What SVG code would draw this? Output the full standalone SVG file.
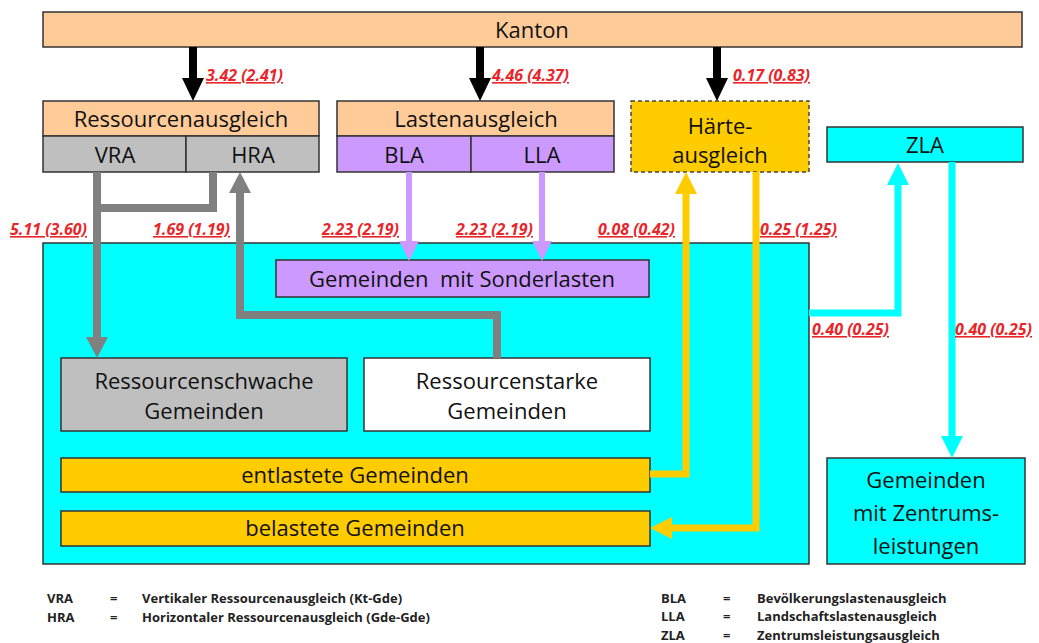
<svg xmlns="http://www.w3.org/2000/svg" width="1039" height="643" viewBox="0 0 1039 643">
<style>
  .box{stroke:#333;stroke-width:1.5}
  .t{font-family:"Open Sans","Liberation Sans",sans-serif;font-size:22px;fill:#111;text-anchor:middle}
  .lbl{font-family:"Open Sans","Liberation Sans",sans-serif;font-size:16px;font-weight:bold;font-style:italic;fill:#E8262A;text-decoration:underline}
  .lg{font-family:"Open Sans","Liberation Sans",sans-serif;font-size:13px;font-weight:bold;fill:#222}
  .c{fill:none;stroke-linejoin:miter}
</style>
<defs>
  <marker id="mBlack" markerUnits="userSpaceOnUse" markerWidth="24" markerHeight="24" refX="0" refY="11" orient="auto" overflow="visible"><path d="M0,0 L23,11 L0,22 z" fill="#000"/></marker>
  <marker id="mGray" markerUnits="userSpaceOnUse" markerWidth="24" markerHeight="24" refX="0" refY="11" orient="auto" overflow="visible"><path d="M0,0 L21,11 L0,22 z" fill="#808080"/></marker>
  <marker id="mPurple" markerUnits="userSpaceOnUse" markerWidth="24" markerHeight="24" refX="0" refY="10" orient="auto" overflow="visible"><path d="M0,0 L20,10 L0,20 z" fill="#CC99FF"/></marker>
  <marker id="mYellow" markerUnits="userSpaceOnUse" markerWidth="24" markerHeight="24" refX="0" refY="11" orient="auto" overflow="visible"><path d="M0,0 L22,11 L0,22 z" fill="#FFCC00"/></marker>
  <marker id="mCyan" markerUnits="userSpaceOnUse" markerWidth="24" markerHeight="24" refX="0" refY="11" orient="auto" overflow="visible"><path d="M0,0 L22,11 L0,22 z" fill="#00FFFF"/></marker>
</defs>
<rect width="1039" height="643" fill="#fff"/>

<g id="kanton">
  <rect class="box" x="43" y="12" width="979" height="35" fill="#FFCC99"/>
  <text class="t" x="532" y="38">Kanton</text>
</g>

<g id="gemeinden-container">
  <rect class="box" x="43" y="243" width="766" height="321" fill="#00FFFF"/>
</g>

<g id="ressourcenausgleich">
  <rect class="box" x="43" y="101" width="276" height="35" fill="#FFCC99"/>
  <rect class="box" x="43" y="136" width="143" height="36" fill="#BFBFBF"/>
  <rect class="box" x="186" y="136" width="133" height="36" fill="#BFBFBF"/>
  <text class="t" x="181" y="127">Ressourcenausgleich</text>
  <text class="t" x="115" y="163">VRA</text>
  <text class="t" x="253" y="163">HRA</text>
</g>

<g id="lastenausgleich">
  <rect class="box" x="337" y="101" width="277" height="35" fill="#FFCC99"/>
  <rect class="box" x="337" y="136" width="134" height="36" fill="#CC99FF"/>
  <rect class="box" x="471" y="136" width="143" height="36" fill="#CC99FF"/>
  <text class="t" x="476" y="127">Lastenausgleich</text>
  <text class="t" x="404" y="163">BLA</text>
  <text class="t" x="542" y="163">LLA</text>
</g>

<g id="haerteausgleich">
  <rect x="631" y="101" width="178" height="71" fill="#FFCC00" stroke="#444" stroke-width="1.5" stroke-dasharray="4,3"/>
  <text class="t" x="720" y="134">Härte-</text>
  <text class="t" x="720" y="163">ausgleich</text>
</g>

<g id="zla">
  <rect class="box" x="827" y="127" width="196" height="35" fill="#00FFFF"/>
  <text class="t" x="925" y="153">ZLA</text>
</g>

<g id="sonderlasten">
  <rect class="box" x="276" y="260" width="373" height="37" fill="#CC99FF"/>
  <text class="t" x="462" y="287" xml:space="preserve">Gemeinden  mit Sonderlasten</text>
</g>

<g id="ressourcenschwache">
  <rect class="box" x="61" y="358" width="286" height="73" fill="#BFBFBF"/>
  <text class="t" x="204" y="389">Ressourcenschwache</text>
  <text class="t" x="204" y="419">Gemeinden</text>
</g>

<g id="ressourcenstarke">
  <rect class="box" x="364" y="358" width="286" height="73" fill="#FFFFFF"/>
  <text class="t" x="507" y="389">Ressourcenstarke</text>
  <text class="t" x="507" y="419">Gemeinden</text>
</g>

<g id="entlastete">
  <rect class="box" x="61" y="458" width="589" height="34" fill="#FFCC00"/>
  <text class="t" x="355" y="483">entlastete Gemeinden</text>
</g>

<g id="belastete">
  <rect class="box" x="61" y="511" width="589" height="35" fill="#FFCC00"/>
  <text class="t" x="355" y="536">belastete Gemeinden</text>
</g>

<g id="zentrumsleistungen">
  <rect class="box" x="827" y="458" width="198" height="106" fill="#00FFFF"/>
  <text class="t" x="926" y="488">Gemeinden</text>
  <text class="t" x="926" y="521">mit Zentrums-</text>
  <text class="t" x="926" y="554">leistungen</text>
</g>

<g id="connectors">
  <path class="c" d="M193,47 V78" stroke="#000" stroke-width="8" marker-end="url(#mBlack)"/>
  <path class="c" d="M480,47 V78" stroke="#000" stroke-width="8" marker-end="url(#mBlack)"/>
  <path class="c" d="M717,47 V78" stroke="#000" stroke-width="8" marker-end="url(#mBlack)"/>

  <path class="c" d="M97,172 V337" stroke="#808080" stroke-width="8" marker-end="url(#mGray)"/>
  <path class="c" d="M213,172 V208 H97" stroke="#808080" stroke-width="8"/>
  <path class="c" d="M497,358 V315 H240 V193" stroke="#808080" stroke-width="8" marker-end="url(#mGray)"/>

  <path class="c" d="M409,172 V241" stroke="#CC99FF" stroke-width="6" marker-end="url(#mPurple)"/>
  <path class="c" d="M542,172 V241" stroke="#CC99FF" stroke-width="6" marker-end="url(#mPurple)"/>

  <path class="c" d="M650,474 H686 V194" stroke="#FFCC00" stroke-width="7" marker-end="url(#mYellow)"/>
  <path class="c" d="M756,172 V528 H672" stroke="#FFCC00" stroke-width="7" marker-end="url(#mYellow)"/>

  <path class="c" d="M809,313 H898 V185" stroke="#00FFFF" stroke-width="7" marker-end="url(#mCyan)"/>
  <path class="c" d="M952,162 V436" stroke="#00FFFF" stroke-width="7" marker-end="url(#mCyan)"/>
</g>

<g id="labels">
  <text class="lbl" x="206" y="81">3.42 (2.41)</text>
  <text class="lbl" x="492" y="81">4.46 (4.37)</text>
  <text class="lbl" x="733" y="81">0.17 (0.83)</text>
  <text class="lbl" x="10" y="235">5.11 (3.60)</text>
  <text class="lbl" x="153" y="235">1.69 (1.19)</text>
  <text class="lbl" x="322" y="235">2.23 (2.19)</text>
  <text class="lbl" x="456" y="235">2.23 (2.19)</text>
  <text class="lbl" x="598" y="235">0.08 (0.42)</text>
  <text class="lbl" x="760" y="235">0.25 (1.25)</text>
  <text class="lbl" x="812" y="335">0.40 (0.25)</text>
  <text class="lbl" x="955" y="335">0.40 (0.25)</text>
</g>

<g id="legend">
  <text class="lg" x="47" y="603">VRA</text>
  <text class="lg" x="110" y="603">=</text>
  <text class="lg" x="142" y="603">Vertikaler Ressourcenausgleich (Kt-Gde)</text>
  <text class="lg" x="47" y="622">HRA</text>
  <text class="lg" x="110" y="622">=</text>
  <text class="lg" x="142" y="622">Horizontaler Ressourcenausgleich (Gde-Gde)</text>
  <text class="lg" x="661" y="603">BLA</text>
  <text class="lg" x="723" y="603">=</text>
  <text class="lg" x="757" y="603">Bevölkerungslastenausgleich</text>
  <text class="lg" x="661" y="621">LLA</text>
  <text class="lg" x="723" y="621">=</text>
  <text class="lg" x="757" y="621">Landschaftslastenausgleich</text>
  <text class="lg" x="661" y="640">ZLA</text>
  <text class="lg" x="723" y="640">=</text>
  <text class="lg" x="757" y="640">Zentrumsleistungsausgleich</text>
</g>
</svg>
